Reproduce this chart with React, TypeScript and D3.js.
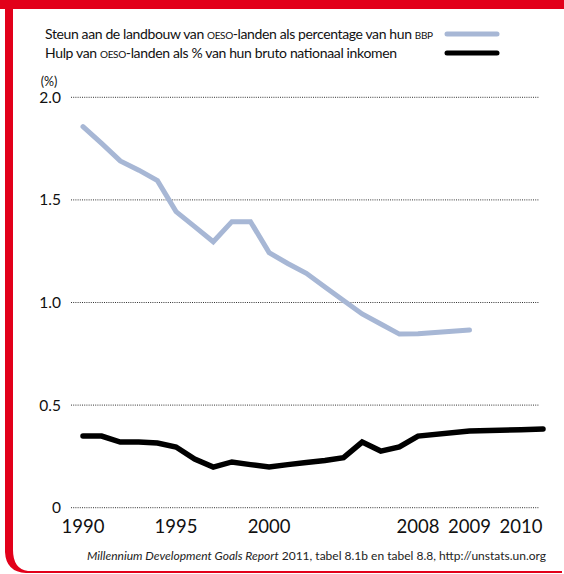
import React from "react";
import * as d3 from "d3";

const years = [1990, 1991, 1992, 1993, 1994, 1995, 1996, 1997, 1998, 1999, 2000, 2001, 2002, 2003, 2004, 2005, 2006, 2007, 2008, 2009, 2010, 2011];
const landbouw = [1.857, 1.775, 1.69, 1.645, 1.594, 1.443, 1.37, 1.296, 1.394, 1.394, 1.243, 1.19, 1.142, 1.075, 1.01, 0.944, 0.895, 0.846, 0.848, 0.866];
const hulp = [0.349, 0.349, 0.32, 0.32, 0.315, 0.296, 0.237, 0.198, 0.223, 0.21, 0.198, 0.21, 0.22, 0.23, 0.244, 0.32, 0.276, 0.296, 0.349, 0.374, 0.38, 0.384];
const yTicks = [0, 0.5, 1.0, 1.5, 2.0];
const yTickLabels = ["0", "0.5", "1.0", "1.5", "2.0"];
const xTicks = [1990, 1995, 2000, 2008, 2009, 2010];
const legendLabels = [
  ["Steun aan de landbouw van ", "oeso", "-landen als percentage van hun ", "bbp"],
  ["Hulp van ", "oeso", "-landen als % van hun bruto nationaal inkomen"],
];
const legendWidths = [388, 352];
const seriesColors = ["#a7b7d5", "#000000"];
const red = "#e2001a";
const font = "Lato, 'Open Sans', sans-serif";

export default function App() {
  const W = 564, H = 574;
  const x = d3.scaleLinear().domain([1990, 2008, 2010, 2011]).range([83, 418, 521, 543]);
  const y = d3.scaleLinear().domain([0, 2]).range([507.7, 97.3]);
  const line = d3.line<number>().x((_, i) => x(years[i])).y(d => y(d)).curve(d3.curveLinear);
  return (
    <svg width={W} height={H} style={{ position: "absolute", left: 0, top: 0, background: "#fff" }} fontFamily={font}>
      {/* frame */}
      <rect x={0} y={0} width={W} height={9} fill={red} />
      <path d="M5,0 L5,552 Q6,572 26,573 L562,573 L562,571 L28,571 Q13,569 13,550 L13,0 Z" fill={red} />
      {/* legend */}
      {legendLabels.map((parts, i) => (
        <g key={i}>
          <text x={45} y={39 + i * 18.5} fontSize={14} fill="#111" textLength={legendWidths[i]} lengthAdjust="spacing">
            {parts.map((p, j) => (
              <tspan key={j} style={{ fontVariant: j % 2 === 1 ? "small-caps" : "normal" }}>{p}</tspan>
            ))}
          </text>
          <line x1={447} x2={497} y1={34 + i * 19} y2={34 + i * 19} stroke={seriesColors[i]} strokeWidth={5} strokeLinecap="round" />
        </g>
      ))}
      <text x={49} y={86} fontSize={12.5} textAnchor="middle" fill="#111">(%)</text>
      {/* grid */}
      {yTicks.map((t, i) => (
        <g key={t}>
          <line x1={71} x2={539} y1={y(t)} y2={y(t)} stroke="#333" strokeWidth={1} strokeDasharray="1,1.2" />
          <text x={61} y={y(t) + 5.5} fontSize={15.5} textAnchor="end" fill="#111">{yTickLabels[i]}</text>
        </g>
      ))}
      {xTicks.map(t => (
        <text key={t} x={x(t)} y={533} fontSize={18.5} textAnchor="middle" fill="#111">{t}</text>
      ))}
      <path d={line(landbouw) || ""} fill="none" stroke={seriesColors[0]} strokeWidth={5} strokeLinejoin="miter" strokeLinecap="round" />
      <path d={line(hulp) || ""} fill="none" stroke={seriesColors[1]} strokeWidth={5.5} strokeLinejoin="miter" strokeLinecap="round" />
      <text x={546} y={560} fontSize={12} textAnchor="end" fill="#222">
        <tspan fontStyle="italic">Millennium Development Goals Report</tspan>
        <tspan> 2011, tabel 8.1b en tabel 8.8, http://unstats.un.org</tspan>
      </text>
    </svg>
  );
}
